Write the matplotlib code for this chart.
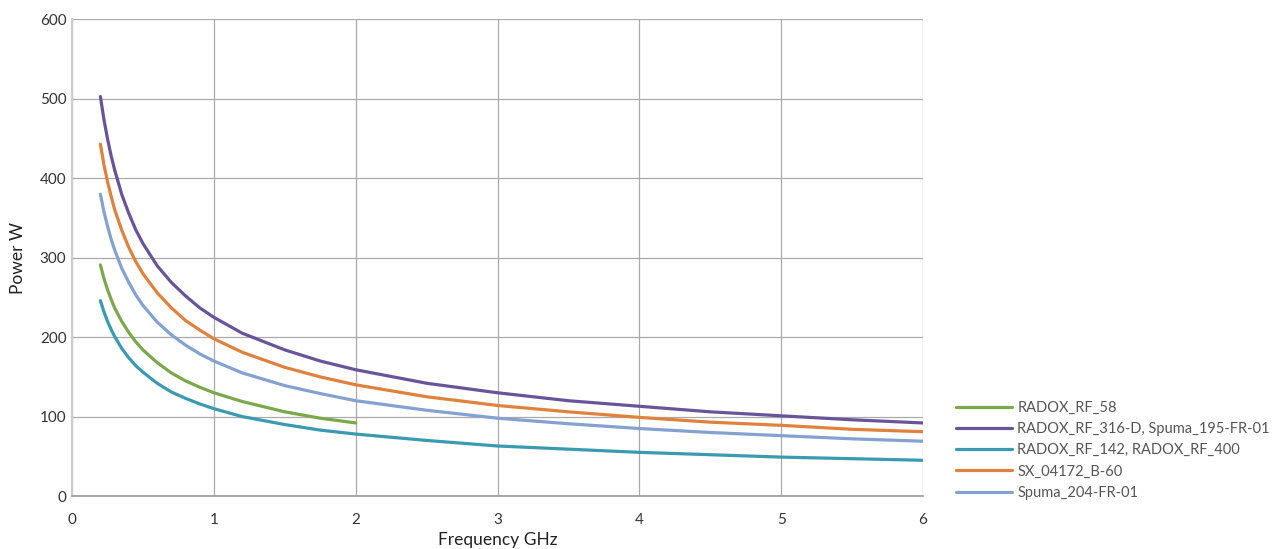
import matplotlib.pyplot as plt

# --- données ---
freq = [0.2, 0.225, 0.25, 0.275, 0.3, 0.35, 0.4, 0.45, 0.5, 0.6, 0.7, 0.8,
        0.9, 1.0, 1.2, 1.5, 1.75, 2.0, 2.5, 3.0, 3.5, 4.0, 4.5, 5.0, 5.5, 6.0]
freq_58 = freq[:18]

p_radox_58 = [291, 274, 260, 248, 237, 220, 206, 194, 184, 168, 155, 145,
              137, 130, 119, 106, 98, 92]
p_radox_316 = [503, 474, 450, 429, 411, 380, 356, 335, 318, 290, 269, 252,
               237, 225, 205, 184, 170, 159, 142, 130, 120, 113, 106, 101, 96, 92]
p_radox_142 = [246, 232, 220, 210, 201, 186, 174, 164, 156, 142, 131, 123,
               116, 110, 100, 90, 83, 78, 70, 63, 59, 55, 52, 49, 47, 45]
p_sx_04172 = [443, 417, 396, 378, 361, 335, 313, 295, 280, 256, 237, 221,
              209, 198, 181, 162, 150, 140, 125, 114, 106, 99, 93, 89, 84, 81]
p_spuma_204 = [380, 358, 340, 324, 310, 287, 269, 253, 240, 219, 203, 190,
               179, 170, 155, 139, 129, 120, 108, 98, 91, 85, 80, 76, 72, 69]

labels = ["RADOX_RF_58", "RADOX_RF_316-D, Spuma_195-FR-01",
          "RADOX_RF_142, RADOX_RF_400", "SX_04172_B-60", "Spuma_204-FR-01"]
colors = ["#7BA84B", "#6A5499", "#3A9AB0", "#E0813E", "#84A2D0"]

plt.rcParams['font.family'] = ['Lato', 'DejaVu Sans']

fig = plt.figure(figsize=(12.77, 5.49), dpi=100)
ax = fig.add_axes([0.0564, 0.0965, 0.6664, 0.868])

series = [(freq_58, p_radox_58), (freq, p_radox_316), (freq, p_radox_142),
          (freq, p_sx_04172), (freq, p_spuma_204)]
for (x, y), lab, col in zip(series, labels, colors):
    ax.plot(x, y, color=col, linewidth=2.3, label=lab, solid_capstyle='round')

ax.set_xlim(0, 6)
ax.set_ylim(0, 600)
ax.set_xticks(range(0, 7))
ax.set_yticks(range(0, 601, 100))
ax.grid(True, color='#AAAAAA', linewidth=0.9)
ax.set_axisbelow(True)

for s in ['top', 'right']:
    ax.spines[s].set_visible(False)
ax.spines['left'].set_color('#CCCCCC')
ax.spines['left'].set_linewidth(1.5)
ax.spines['bottom'].set_color('#999999')
ax.spines['bottom'].set_linewidth(1.2)

ax.tick_params(axis='x', length=0, pad=12, labelsize=11, labelcolor='#333333')
ax.tick_params(axis='y', length=0, pad=4, labelsize=11, labelcolor='#333333')

ax.set_xlabel('Frequency GHz', fontsize=12.5, color='#222222', labelpad=4)
ax.set_ylabel('Power W', fontsize=12.5, color='#222222', labelpad=10)

ax.legend(loc='lower left', bbox_to_anchor=(943 / 1277, 36 / 549),
          bbox_transform=fig.transFigure, frameon=False, fontsize=10.5,
          handlelength=3.8, handletextpad=0.4, labelspacing=0.5,
          labelcolor='#555555')

fig.savefig('out.png', dpi=100)
